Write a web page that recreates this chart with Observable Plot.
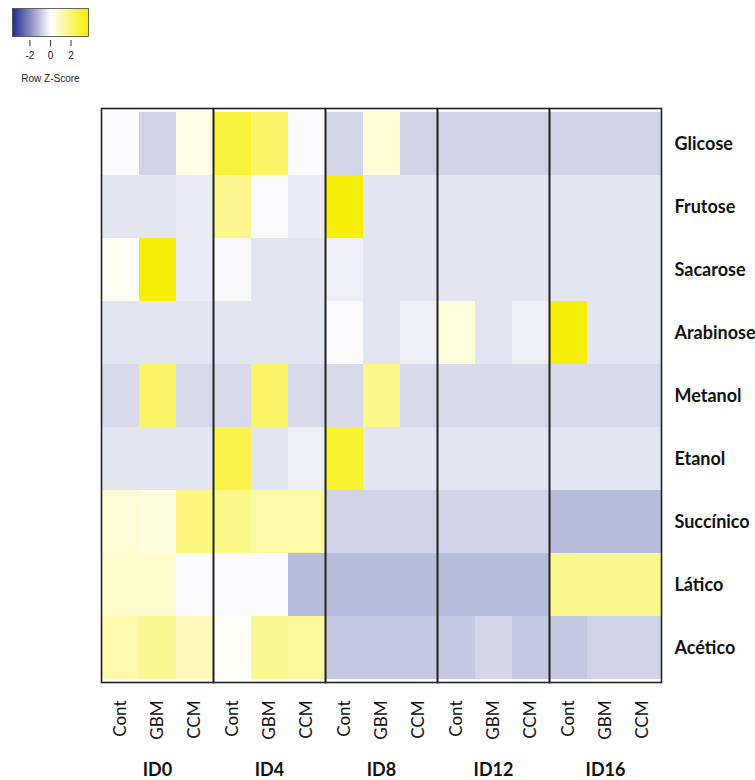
<!DOCTYPE html>
<html><head><meta charset="utf-8">
<script src="https://cdn.jsdelivr.net/npm/d3@7"></script>
<script src="https://cdn.jsdelivr.net/npm/@observablehq/plot@0.6"></script>
<style>
body{margin:0;background:#fff;}
#wrap{position:relative;width:755px;height:780px;overflow:hidden;}
#legend{position:absolute;left:0;top:0;}
#chart{position:absolute;left:0;top:90px;}
</style></head><body>
<div id="wrap"><div id="legend"></div><div id="chart"></div></div>
<script>
const days = ["ID0", "ID4", "ID8", "ID12", "ID16"];
const treatments = ["Cont", "GBM", "CCM"];
const compounds = ["Glicose", "Frutose", "Sacarose", "Arabinose", "Metanol", "Etanol", "Succínico", "Lático", "Acético"];
const legendTicks = [-2, 0, 2];

// Row z-scores, columns: ID0 (Cont,GBM,CCM), ID4, ID8, ID12, ID16
const zGlicose   = [-0.08, -0.78, 0.39,  2.85, 2.2, -0.08,  -0.72, 0.62, -0.78,  -0.78, -0.78, -0.78,  -0.78, -0.78, -0.78];
const zFrutose   = [-0.46, -0.46, -0.33, 1.64, -0.07, -0.33, 3.6, -0.46, -0.46,  -0.46, -0.46, -0.46,  -0.46, -0.46, -0.46];
const zSacarose  = [0.15, 3.6, -0.33,  -0.12, -0.46, -0.46,  -0.28, -0.46, -0.46,  -0.46, -0.46, -0.46,  -0.46, -0.46, -0.46];
const zArabinose = [-0.46, -0.46, -0.46, -0.46, -0.46, -0.46, -0.07, -0.46, -0.28,  0.5, -0.46, -0.28,  3.6, -0.46, -0.46];
const zMetanol   = [-0.64, 2.2, -0.64,  -0.64, 2.2, -0.64,  -0.64, 1.73, -0.64,  -0.64, -0.64, -0.64,  -0.64, -0.64, -0.64];
const zEtanol    = [-0.46, -0.46, -0.46, 2.63, -0.46, -0.3,  3.0, -0.46, -0.46,  -0.46, -0.46, -0.46,  -0.46, -0.46, -0.46];
const zSuccinico = [0.62, 0.46, 1.84,  1.73, 1.3, 1.3,  -0.78, -0.78, -0.78,  -0.78, -0.78, -0.78,  -1.17, -1.17, -1.17];
const zLatico    = [0.74, 0.74, -0.09,  -0.09, -0.09, -1.17,  -1.17, -1.17, -1.17,  -1.17, -1.17, -1.17,  1.66, 1.66, 1.66];
const zAcetico   = [1.23, 1.55, 0.99,  0.1, 1.6, 1.45,  -0.96, -0.96, -0.96,  -0.96, -0.72, -0.96,  -0.96, -0.78, -0.78];

const rows = [zGlicose, zFrutose, zSacarose, zArabinose, zMetanol, zEtanol, zSuccinico, zLatico, zAcetico];
const data = [];
compounds.forEach((c, i) => {
  days.forEach((d, j) => {
    treatments.forEach((t, k) => {
      data.push({compound: c, day: d, treatment: t, z: rows[i][j * 3 + k]});
    });
  });
});

const colorScale = {
  type: "linear",
  domain: [-3.7, 0, 3.7],
  range: ["#1f2b8c", "#ffffff", "#f6ee00"],
  interpolate: "rgb",
  clamp: true
};

const legend = Plot.plot({
  width: 100, height: 90,
  marginLeft: 12, marginRight: 12, marginTop: 8, marginBottom: 54,
  style: {fontFamily: "'Liberation Sans', Arial, sans-serif", background: "transparent", color: "#222"},
  x: {domain: [-3.7, 3.7]},
  y: {domain: [0, 1], axis: null},
  color: colorScale,
  marks: [
    Plot.raster({fill: (x, y) => x, x1: -3.7, x2: 3.7, y1: 0, y2: 1, width: 76, height: 1}),
    Plot.frame({stroke: "#444", strokeWidth: 0.8}),
    Plot.axisX({ticks: legendTicks, tickFormat: d => String(d), tickSize: 6, dy: 4, tickPadding: 5, fontSize: 10, stroke: "#333",
      label: "Row Z-Score", labelAnchor: "center", labelArrow: "none", labelOffset: 45})
  ]
});
legend.querySelectorAll("text").forEach(t => t.setAttribute("font-size", "10"));
document.getElementById("legend").appendChild(legend);

const chart = Plot.plot({
  width: 755, height: 690,
  marginTop: 18, marginBottom: 98, marginLeft: 100, marginRight: 93,
  style: {fontFamily: "Lato, 'Open Sans', sans-serif", color: "#111", background: "transparent"},
  fx: {domain: days, padding: 0, label: null},
  x: {domain: treatments, padding: 0, label: null},
  y: {domain: compounds, padding: 0, label: null},
  color: colorScale,
  marks: [
    Plot.cell(data, {x: "treatment", y: "compound", fx: "day", fill: "z", inset: 0}),
    Plot.frame({stroke: "#222", strokeWidth: 1.6}),
    Plot.axisY({anchor: "right", tickSize: 0, tickPadding: 13, fontSize: 18, fontWeight: "bold", label: null}),
    Plot.axisX({anchor: "bottom", tickSize: 0, tickRotate: -90, tickPadding: 18, fontSize: 17, label: null}),
    Plot.axisFx({anchor: "bottom", tickSize: 0, tickPadding: 81, fontSize: 18, fontWeight: "bold", label: null})
  ]
});
document.getElementById("chart").appendChild(chart);
</script>
</body></html>
